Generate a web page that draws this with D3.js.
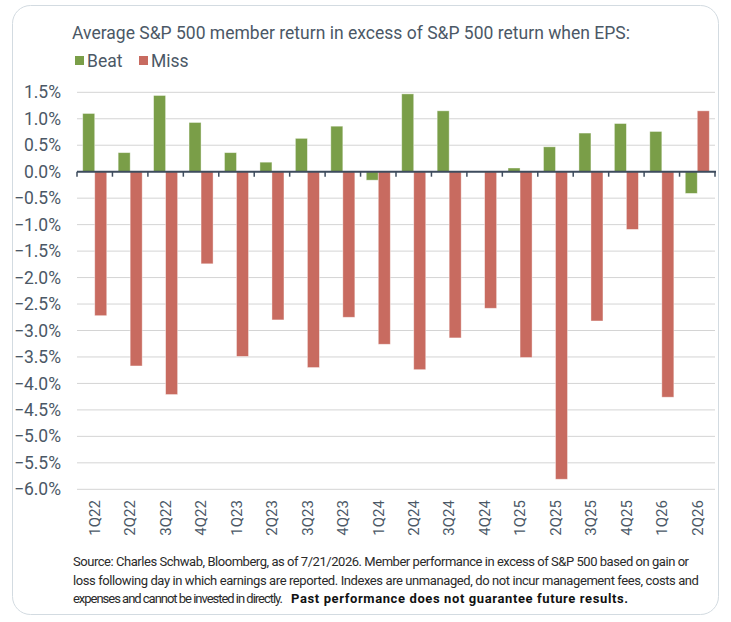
<!DOCTYPE html>
<html>
<head>
<meta charset="utf-8">
<script src="https://cdn.jsdelivr.net/npm/d3@7"></script>
<style>
  html, body { margin: 0; padding: 0; background: #fff; }
  svg { display: block; }
</style>
</head>
<body>
<svg id="chart" width="731" height="622"></svg>
<script>
const categories = ["1Q22","2Q22","3Q22","4Q22","1Q23","2Q23","3Q23","4Q23","1Q24","2Q24","3Q24","4Q24","1Q25","2Q25","3Q25","4Q25","1Q26","2Q26"];
const beatValues = [1.10, 0.36, 1.44, 0.93, 0.36, 0.18, 0.63, 0.86, -0.16, 1.47, 1.15, 0.00, 0.07, 0.47, 0.73, 0.91, 0.76, -0.41];
const missValues = [-2.72, -3.67, -4.21, -1.74, -3.49, -2.80, -3.70, -2.75, -3.26, -3.74, -3.14, -2.58, -3.51, -5.81, -2.82, -1.09, -4.26, 1.15];
const seriesNames = ["Beat", "Miss"];
const yTicks = [1.5, 1.0, 0.5, 0.0, -0.5, -1.0, -1.5, -2.0, -2.5, -3.0, -3.5, -4.0, -4.5, -5.0, -5.5, -6.0];
const titleText = "Average S&P 500 member return in excess of S&P 500 return when EPS:";
const footerLines = [
  "Source: Charles Schwab, Bloomberg, as of 7/21/2026. Member performance in excess of S&P 500 based on gain or",
  "loss following day in which earnings are reported. Indexes are unmanaged, do not incur management fees, costs and",
  "expenses and cannot be invested in directly."
];
const footerBold = "Past performance does not guarantee future results.";

const colors = { Beat: "#7a9e48", Miss: "#c86b60" };
const textColor = "#4b5866";
const font = "Roboto, 'Noto Sans', sans-serif";

const svg = d3.select("#chart");

// fit a text to a target width using letter-spacing (keeps natural glyphs)
function fitWidth(sel, target) {
  const node = sel.node();
  const n = sel.text().length;
  const w = node.getComputedTextLength();
  const ls = (target - w) / Math.max(1, n - 1);
  sel.attr("letter-spacing", ls.toFixed(3));
  return sel;
}

// frame
svg.append("rect")
  .attr("x", 12.5).attr("y", 5.5)
  .attr("width", 706).attr("height", 609)
  .attr("rx", 18).attr("ry", 18)
  .attr("fill", "#fff")
  .attr("stroke", "#d3dbe1").attr("stroke-width", 1);

const left = 77, right = 715;
const x = d3.scaleBand().domain(categories).range([left, right]).paddingInner(0).paddingOuter(0);
const x1 = d3.scaleBand().domain(seriesNames).range([0, x.bandwidth()]).paddingInner(0).paddingOuter(0.475);
const y = d3.scaleLinear().domain([-6, 1.5]).range([489.3, 92.3]);

// gridlines
svg.append("g").selectAll("line").data(yTicks).join("line")
  .attr("x1", left).attr("x2", right)
  .attr("y1", d => y(d)).attr("y2", d => y(d))
  .attr("stroke", "#d4d4d4").attr("stroke-width", 1);

// y labels
const fmt = d3.format(".1f");
svg.append("g").selectAll("text").data(yTicks).join("text")
  .attr("x", 61).attr("y", d => y(d))
  .attr("dy", "0.35em")
  .attr("text-anchor", "end")
  .attr("font-family", font).attr("font-size", 17.5)
  .attr("fill", textColor)
  .text(d => fmt(d) + "%");

// bars
const rows = categories.map((c, i) => ({ cat: c, Beat: beatValues[i], Miss: missValues[i] }));
const g = svg.append("g");
rows.forEach(r => {
  seriesNames.forEach(s => {
    const v = r[s];
    if (v === 0) return;
    g.append("rect")
      .attr("x", x(r.cat) + x1(s))
      .attr("width", x1.bandwidth())
      .attr("y", Math.min(y(v), y(0)))
      .attr("height", Math.abs(y(v) - y(0)))
      .attr("fill", colors[s])
      .attr("stroke", "rgba(255,255,255,0.5)")
      .attr("stroke-width", 0.8);
  });
});

// zero axis
svg.append("line")
  .attr("x1", left).attr("x2", right + 1)
  .attr("y1", y(0)).attr("y2", y(0))
  .attr("stroke", "#3e4c5e").attr("stroke-width", 2);
const bounds = categories.map(c => x(c)).concat([right]);
svg.append("g").selectAll("line").data(bounds).join("line")
  .attr("x1", d => d).attr("x2", d => d)
  .attr("y1", y(0)).attr("y2", y(0) + 5)
  .attr("stroke", "#3e4c5e").attr("stroke-width", 1.5);

// x labels
svg.append("g").selectAll("text").data(categories).join("text")
  .attr("transform", d => `translate(${x(d) + x.bandwidth() / 2},500) rotate(-90)`)
  .attr("dy", "0.35em")
  .attr("text-anchor", "end")
  .attr("font-family", font).attr("font-size", 15)
  .attr("fill", textColor)
  .text(d => d);

// title
fitWidth(svg.append("text")
  .attr("x", 72).attr("y", 39)
  .attr("font-family", font).attr("font-size", 17.5)
  .attr("fill", textColor)
  .text(titleText), 558);

// legend
const legendX = [75, 139];
seriesNames.forEach((s, i) => {
  svg.append("rect")
    .attr("x", legendX[i]).attr("y", 56)
    .attr("width", 9).attr("height", 9)
    .attr("fill", colors[s]);
  svg.append("text")
    .attr("x", legendX[i] + 12).attr("y", 67)
    .attr("font-family", font).attr("font-size", 17.5)
    .attr("fill", textColor)
    .text(s);
});

// footer
const footY = [566, 584.5, 603];
const footW = [616, 626, 210];
footerLines.forEach((t, i) => {
  fitWidth(svg.append("text")
    .attr("x", 73).attr("y", footY[i])
    .attr("font-family", font).attr("font-size", 13)
    .attr("fill", "#2a2a2a")
    .text(t), footW[i]);
});
fitWidth(svg.append("text")
  .attr("x", 291).attr("y", footY[2])
  .attr("font-family", font).attr("font-size", 13).attr("font-weight", "bold")
  .attr("fill", "#111")
  .text(footerBold), 337);
</script>
</body>
</html>
